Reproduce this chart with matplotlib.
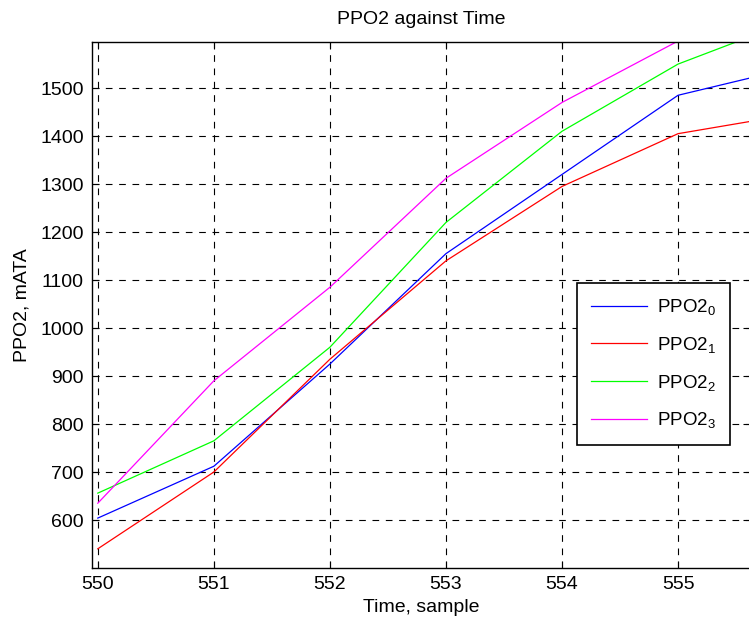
import matplotlib
matplotlib.use("Agg")
import matplotlib.pyplot as plt

plt.rcParams['font.family'] = ['Liberation Sans', 'DejaVu Sans']
plt.rcParams['mathtext.fontset'] = 'custom'
plt.rcParams['mathtext.rm'] = 'Liberation Sans'
plt.rcParams['mathtext.it'] = 'Liberation Sans'

time = [550, 551, 552, 553, 554, 555, 556]
ppo2_0 = [604, 712, 925, 1155, 1320, 1485, 1543]
ppo2_1 = [540, 700, 935, 1140, 1295, 1405, 1446]
ppo2_2 = [656, 765, 960, 1220, 1410, 1550, 1642]
ppo2_3 = [635, 890, 1085, 1312, 1470, 1598, 1700]
labels = ['PPO2$_0$', 'PPO2$_1$', 'PPO2$_2$', 'PPO2$_3$']
colors = ['#0000ff', '#ff0000', '#00ff00', '#ff00ff']

fig = plt.figure(figsize=(7.49, 6.23), dpi=100)
ax = fig.add_axes([92/749, 55/623, 658/749, 526/623])

for ys, lab, c in zip([ppo2_0, ppo2_1, ppo2_2, ppo2_3], labels, colors):
    ax.plot(time, ys, color=c, lw=0.9, label=lab)

ax.set_xlim(549.95, 555.62)
ax.set_ylim(500, 1596)
ax.set_xticks([550, 551, 552, 553, 554, 555])
ax.set_yticks(range(600, 1501, 100))
ax.grid(True, color='black', linestyle=(0, (6, 6)), linewidth=0.8)
ax.tick_params(direction='in', top=True, right=True, labelsize=14, length=5, pad=6)
for s in ax.spines.values():
    s.set_linewidth(1.0)

ax.set_title('PPO2 against Time', fontsize=14, pad=13)
ax.set_xlabel('Time, sample', fontsize=14, labelpad=4)
ax.set_ylabel('PPO2, mATA', fontsize=14, labelpad=7)

leg = ax.legend(loc='upper left', bbox_to_anchor=((577-92)/658, (568-283)/526),
                fontsize=13.5, fancybox=False, framealpha=1, edgecolor='black',
                handlelength=3.0, handletextpad=0.5, borderpad=0.75, labelspacing=0.95,
                borderaxespad=0)
leg.get_frame().set_linewidth(1.2)

fig.savefig('out.png', dpi=100)
